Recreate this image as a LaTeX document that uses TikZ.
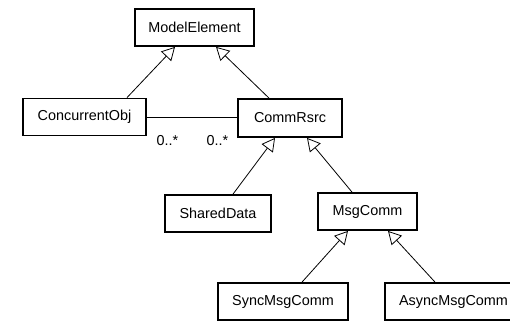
\documentclass[tikz,border=0pt]{standalone}
\usepackage{fontspec}
\setmainfont{Liberation Sans}
\usetikzlibrary{arrows.meta}
\begin{document}
\begin{tikzpicture}[x=1pt,y=-1pt,
  cls/.style={draw,line width=1.8pt,minimum height=37pt,inner sep=0pt,font=\fontsize{14.4}{16}\selectfont},
  gen/.style={draw,line width=0.8pt,-{Triangle[open,length=13pt,width=14pt,line width=0.8pt]}},
  assoc/.style={draw,line width=0.8pt},
  mult/.style={font=\fontsize{14.4}{16}\selectfont,inner sep=0pt}]
\useasboundingbox (0,0) rectangle (510,321);
\begin{scope}
\clip (0,0) rectangle (510,321);
% classes
\node[cls,minimum width=119pt] (me) at (194.5,27.5) {ModelElement};
\node[cls,minimum width=123pt] (co) at (84.5,117) {ConcurrentObj};
\node[cls,minimum width=104pt,minimum height=38pt] (cr) at (290,118) {CommRsrc};
\node[cls,minimum width=106pt] (sd) at (218,213.5) {SharedData};
\node[cls,minimum width=99pt] (mc) at (367.5,211.5) {MsgComm};
\node[cls,minimum width=130pt] (sm) at (283,301.5) {SyncMsgComm};
\node[cls,minimum width=137pt] (am) at (453.5,301.5) {AsyncMsgComm};
% generalisations
\draw[gen] ([xshift=42.5pt]co.north) -- ([xshift=-19.5pt]me.south);
\draw[gen] ([xshift=-21pt]cr.north) -- ([xshift=21.5pt]me.south);
\draw[gen] ([xshift=15pt]sd.north) -- ([xshift=-15pt]cr.south);
\draw[gen] ([xshift=-15.5pt]mc.north) -- ([xshift=17pt]cr.south);
\draw[gen] ([xshift=19pt]sm.north) -- ([xshift=-19.5pt]mc.south);
\draw[gen] ([xshift=-18.5pt]am.north) -- ([xshift=20.5pt]mc.south);
% association
\draw[assoc] (co.east) -- (co.east -| cr.west);
\node[mult] (m1) at (167.5,140.5) {0..*};
\node[mult] (m2) at (217.5,140.5) {0..*};
\end{scope}
\end{tikzpicture}
\end{document}
